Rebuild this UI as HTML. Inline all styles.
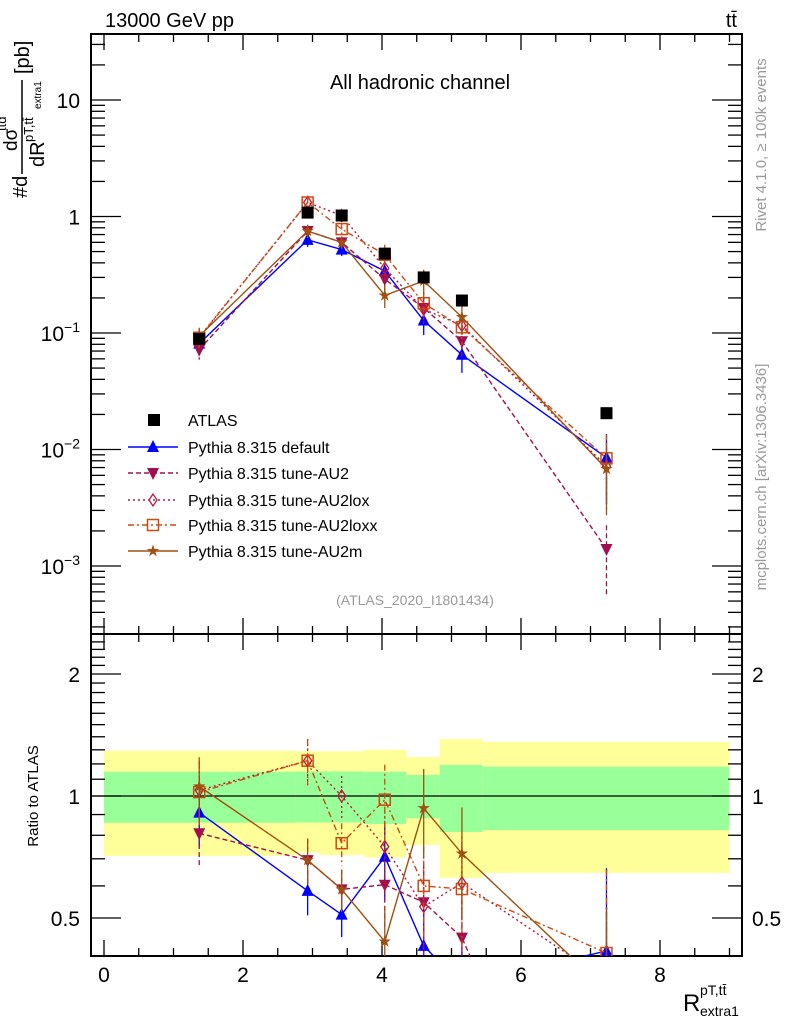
<!DOCTYPE html>
<html><head><meta charset="utf-8"><style>
html,body{margin:0;background:#fff;overflow:hidden;width:786px;height:1024px;}
svg{display:block;font-family:"Liberation Sans",Arial,sans-serif;}
</style></head><body>
<svg id="c" width="786" height="1024" viewBox="0 0 786 1024"></svg>
<script>
const xEdges=[0,2.75,3.1,3.74,4.35,4.83,5.45,9.0];
const xCenters=[1.37,2.93,3.42,4.04,4.6,5.15,7.23];
const atlas=[0.089,1.08,1.02,0.48,0.30,0.19,0.0205];
const bandY1=[1.294,1.29,1.29,1.30,1.248,1.383,1.359];
const bandG1=[1.148,1.15,1.15,1.148,1.127,1.193,1.181];
const bandG2=[0.859,0.86,0.86,0.853,0.881,0.815,0.824];
const bandY2=[0.712,0.725,0.715,0.705,0.757,0.628,0.646];
const mcDefault=[0.081,0.63,0.52,0.34,0.128,0.065,0.0085];
const mcAU2=[0.072,0.75,0.60,0.29,0.164,0.085,0.0014];
const mcAU2lox=[0.092,1.32,1.02,0.36,0.16,0.116,0.0072];
const mcAU2loxx=[0.091,1.32,0.78,0.47,0.18,0.112,0.0084];
const mcAU2m=[0.094,0.75,0.60,0.21,0.28,0.137,0.0068];
const relErr=[0.18,0.13,0.12,0.22,0.25,0.3,0.6];
const xTicks=[0,2,4,6,8];
const mainTicks=[10,1,0.1,0.01,0.001];
const mainTickLabels=["10","1","10^-1","10^-2","10^-3"];
const ratioTicks=[0.5,1,2];

const NS="http://www.w3.org/2000/svg";
const svg=document.getElementById('c');
const L=91,R=742,MT=34,MB=634,RT=634,RB=956;
const X=v=>104+v*69.5;
const Ym=v=>100-(Math.log10(v)-1)*116.5;
const Yr=v=>796-Math.log2(v)*122;
function el(t,a,p){const e=document.createElementNS(NS,t);for(const k in a)e.setAttribute(k,a[k]);(p||svg).appendChild(e);return e;}
function txt(s,x,y,a,p){const e=el('text',Object.assign({x:x,y:y},a),p);e.textContent=s;return e;}
function rtxt(s,x,y,size,p){return txt(s,x,y,{'font-size':size,transform:`rotate(-90 ${x} ${y})`},p);}

const defs=el('defs',{});
const cm=el('clipPath',{id:'cm'},defs);el('rect',{x:L,y:MT,width:R-L,height:MB-MT},cm);
const cr=el('clipPath',{id:'cr'},defs);el('rect',{x:L,y:RT,width:R-L,height:RB-RT},cr);

const bands=el('g',{'clip-path':'url(#cr)'});


for(let i=0;i<xCenters.length;i++){
  const x0=X(xEdges[i]),x1=X(xEdges[i+1]);
  const y=el('rect',{x:x0,y:Yr(bandY1[i]),width:x1-x0,height:Yr(bandY2[i])-Yr(bandY1[i]),fill:'#ffff99'},bands);
  
  
  const g=el('rect',{x:x0,y:Yr(bandG1[i]),width:x1-x0,height:Yr(bandG2[i])-Yr(bandG1[i]),fill:'#99ff99'},bands);
  
  
}
el('line',{x1:L,x2:R,y1:Yr(1),y2:Yr(1),stroke:'#000','stroke-width':1.3});

const fm=el('rect',{x:L,y:MT,width:R-L,height:MB-MT,fill:'none',stroke:'#000','stroke-width':2});

const fr=el('rect',{x:L,y:RT,width:R-L,height:RB-RT,fill:'none',stroke:'#000','stroke-width':2});


for(let v=0;v<=9.01;v+=0.5){
  const maj=Math.abs(v-Math.round(v/2)*2)<1e-6, len=maj?16:8, x=X(v);
  for(const [t,b] of [[MT,MB],[RT,RB]]){
    el('line',{x1:x,x2:x,y1:b,y2:b-len,stroke:'#000','stroke-width':1.3});
    el('line',{x1:x,x2:x,y1:t,y2:t+len,stroke:'#000','stroke-width':1.3});
  }
}
xTicks.forEach(v=>{const t=txt(String(v),X(v),982,{'font-size':21,'text-anchor':'middle'});
  });

for(let d=-4;d<=1;d++){for(let m=1;m<10;m++){const v=m*Math.pow(10,d);const y=Ym(v);if(y<MT||y>MB)continue;
  const len=m===1?30:14;
  el('line',{x1:L,x2:L+len,y1:y,y2:y,stroke:'#000','stroke-width':1.3});
  el('line',{x1:R,x2:R-len,y1:y,y2:y,stroke:'#000','stroke-width':1.3});}}
mainTicks.forEach((v,i)=>{const s=mainTickLabels[i];const y=Ym(v)+8;
  let t;
  if(s.indexOf('^')<0){t=txt(s,80,y,{'font-size':21,'text-anchor':'end'});}
  else{const p=s.split('^');t=el('text',{x:80,y:y,'font-size':21,'text-anchor':'end'});
    const a=el('tspan',{},t);a.textContent=p[0];const b=el('tspan',{dy:-9,'font-size':14},t);b.textContent=p[1].replace('-','\u2212');}
  });

for(let v=0.4;v<=2.5;v+=0.1){const y=Yr(v);if(y<RT||y>RB)continue;
  const maj=[0.5,1,2].some(m=>Math.abs(m-v)<1e-6);const len=maj?30:14;
  el('line',{x1:L,x2:L+len,y1:y,y2:y,stroke:'#000','stroke-width':1.3});
  el('line',{x1:R,x2:R-len,y1:y,y2:y,stroke:'#000','stroke-width':1.3});}
ratioTicks.forEach(v=>{
  const a=txt(String(v),80,Yr(v)+8,{'font-size':21,'text-anchor':'end'});
  
  const b=txt(String(v),752,Yr(v)+8,{'font-size':21});
  });

function marker(type,x,y,c,p){
  const s=6;
  if(type==='sq')return el('rect',{x:x-s,y:y-s,width:2*s,height:2*s,fill:'#000'},p);
  if(type==='up')return el('polygon',{points:`${x},${y-s-1} ${x-s},${y+s-1} ${x+s},${y+s-1}`,fill:c},p);
  if(type==='down')return el('polygon',{points:`${x},${y+s+1} ${x-s},${y-s+1} ${x+s},${y-s+1}`,fill:c},p);
  if(type==='dia')return el('polygon',{points:`${x},${y-6} ${x-4},${y} ${x},${y+6} ${x+4},${y}`,fill:'none',stroke:c,'stroke-width':1.3},p);
  if(type==='osq')return el('rect',{x:x-5.5,y:y-5.5,width:11,height:11,fill:'none',stroke:c,'stroke-width':1.5},p);
  if(type==='star'){let pts=[];for(let k=0;k<10;k++){const r=k%2?2.5:6.5,a=-Math.PI/2+k*Math.PI/5;pts.push((x+r*Math.cos(a))+','+(y+r*Math.sin(a)));}
    return el('polygon',{points:pts.join(' '),fill:c},p);}
}
const series=[
 {name:'default',vals:mcDefault,c:'#0000ff',dash:'',m:'up',lab:'Pythia 8.315 default'},
 {name:'tune-au2',vals:mcAU2,c:'#a01050',dash:'5,3',m:'down',lab:'Pythia 8.315 tune-AU2'},
 {name:'tune-au2lox',vals:mcAU2lox,c:'#b81840',dash:'2,3',m:'dia',lab:'Pythia 8.315 tune-AU2lox'},
 {name:'tune-au2loxx',vals:mcAU2loxx,c:'#cc4a10',dash:'6,3,2,3',m:'osq',lab:'Pythia 8.315 tune-AU2loxx'},
 {name:'tune-au2m',vals:mcAU2m,c:'#a05010',dash:'',m:'star',lab:'Pythia 8.315 tune-AU2m'}];

series.forEach(s=>{
  const gm=el('g',{'clip-path':'url(#cm)'});
  
  const gr=el('g',{'clip-path':'url(#cr)'});
  
  const pm=[],pr=[];
  s.vals.forEach((v,i)=>{
    const x=X(xCenters[i]),e=relErr[i];
    const r=v/atlas[i];
    pm.push(x+','+Ym(v));pr.push(x+','+Yr(r));
    const lo=Math.max(v*(1-e),1e-6);
    el('line',{x1:x,x2:x,y1:Ym(v*(1+e)),y2:Ym(lo),stroke:s.c,'stroke-width':1.3,'stroke-dasharray':s.dash},gm);
    el('line',{x1:x,x2:x,y1:Yr(r*(1+e)),y2:Yr(Math.max(r*(1-e),1e-3)),stroke:s.c,'stroke-width':1.3,'stroke-dasharray':s.dash},gr);
    const a=marker(s.m,x,Ym(v),s.c,gm);
    const b=marker(s.m,x,Yr(r),s.c,gr);
  });
  el('polyline',{points:pm.join(' '),fill:'none',stroke:s.c,'stroke-width':1.4,'stroke-dasharray':s.dash},gm);
  el('polyline',{points:pr.join(' '),fill:'none',stroke:s.c,'stroke-width':1.4,'stroke-dasharray':s.dash},gr);
});
const ga=el('g',{});

atlas.forEach((v,i)=>{const m=marker('sq',X(xCenters[i]),Ym(v),'#000',ga);
  });

const lg=el('g',{});

const ly=[420,447,473,500,525,551];
const e0=el('g',{},lg);
marker('sq',154,ly[0],'#000',e0);txt('ATLAS',188,ly[0]+6,{'font-size':16},e0);
series.forEach((s,i)=>{const g=el('g',{},lg);
  
  const y=ly[i+1];
  el('line',{x1:128,x2:178,y1:y,y2:y,stroke:s.c,'stroke-width':1.4,'stroke-dasharray':s.dash},g);
  marker(s.m,153,y,s.c,g);
  txt(s.lab,188,y+6,{'font-size':16},g);});

let t;
t=txt('13000 GeV pp',105,27,{'font-size':20});
t=txt('t\u0074\u0304',737,27,{'font-size':20,'text-anchor':'end'});
t=txt('All hadronic channel',420,89,{'font-size':20,'text-anchor':'middle'});
t=txt('(ATLAS_2020_I1801434)',415,605,{'font-size':14,'text-anchor':'middle',fill:'#999'});
t=txt('Rivet 4.1.0, \u2265 100k events',766,145,{'font-size':15,'text-anchor':'middle',fill:'#999',transform:'rotate(-90 766 145)'});
t=txt('mcplots.cern.ch [arXiv:1306.3436]',766,477,{'font-size':15,'text-anchor':'middle',fill:'#999',transform:'rotate(-90 766 477)'});
t=txt('Ratio to ATLAS',38,796,{'font-size':15,'text-anchor':'middle',transform:'rotate(-90 38 796)'});

const yt=el('g',{});

rtxt('#d',27,198,20,yt);
el('line',{x1:22,x2:22,y1:80,y2:174,stroke:'#000','stroke-width':1.5},yt);
rtxt('d\u03c3',17,151,19,yt);
rtxt('t\u0074\u0304d',6,131,13,yt);
rtxt('dR',44,167,20,yt);
rtxt('pT,t\u0074\u0304',33,142,13,yt);
rtxt('extra1',41,109,10,yt);
rtxt('[pb]',29,74,20,yt);

const xt=el('g',{});

txt('R',683,1011,{'font-size':24},xt);
txt('pT,t\u0074\u0304',700,995,{'font-size':14},xt);
txt('extra1',700,1016,{'font-size':14},xt);
</script>
</body></html>
